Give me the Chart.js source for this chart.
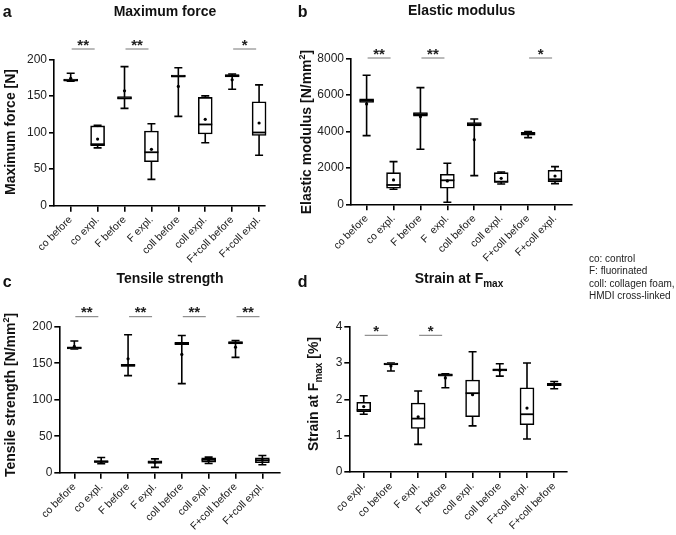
<!DOCTYPE html>
<html><head><meta charset="utf-8">
<script src="https://cdn.jsdelivr.net/npm/chart.js@4"></script>
<style>
html,body{margin:0;padding:0;background:#fff;}
#wrap{position:relative;width:676px;height:535px;overflow:hidden;background:#fff;}
canvas{position:absolute;}
#note{position:absolute;left:589px;top:253px;font:10px "Liberation Sans",Arial,sans-serif;line-height:12.3px;color:#222;white-space:nowrap;z-index:5;}
</style></head><body>
<div id="wrap">
<canvas id="ca" width="296" height="270" style="left:0;top:0;width:296px;height:270px"></canvas>
<canvas id="cb" width="380" height="270" style="left:296px;top:0;width:380px;height:270px"></canvas>
<canvas id="cc" width="296" height="265" style="left:0;top:270px;width:296px;height:265px"></canvas>
<canvas id="cd" width="380" height="265" style="left:296px;top:270px;width:380px;height:265px"></canvas>
<div id="note">co: control<br>F: fluorinated<br>coll: collagen foam,<br>HMDI cross-linked</div>
</div>
<script>
const FONT = '"Liberation Sans", Arial, Helvetica, sans-serif';

// ---- a: Maximum force [N]
const forceLabels = ['co before','co expl.','F before','F expl.','coll before','coll expl.','F+coll before','F+coll expl.'];
const forceMin    = [170, 79, 133, 36, 122, 86, 159, 69];
const forceQ1     = [170, 82, 145.5, 60, 175.5, 98, 176, 96];
const forceMedian = [171.5, 84, 147, 73, 177, 111, 177.5, 100];
const forceQ3     = [173, 109, 149, 102, 178.5, 148, 179, 142];
const forceMax    = [181, 110, 190, 112, 188.5, 150, 180, 165];
const forceMean   = [174, 91, 157, 77, 163, 118, 172, 113];
const forceYTicks = [0, 50, 100, 150, 200];
const forceSig    = [[0,'**'],[2,'**'],[6,'*']];

// ---- b: Elastic modulus [N/mm2]
const modLabels = ['co before','co expl.','F before','F  expl.','coll before','coll expl.','F+coll before','F+coll expl.'];
const modMin    = [3763, 822, 3014, 110, 1571, 1114, 3653, 1132];
const modQ1     = [5580, 877, 4830, 877, 4290, 1205, 3790, 1242];
const modMedian = [5680, 1059, 4930, 1315, 4384, 1242, 3872, 1370];
const modQ3     = [5780, 1735, 5030, 1644, 4480, 1735, 3940, 1863];
const modMax    = [7068, 2338, 6393, 2247, 4676, 1772, 3982, 2064];
const modMean   = [5498, 1333, 4804, 1279, 3543, 1425, 3850, 1552];
const modYTicks = [0, 2000, 4000, 6000, 8000];
const modSig    = [[0,'**'],[2,'**'],[6,'*']];

// ---- c: Tensile strength [N/mm2]
const tensLabels = ['co before','co expl.','F before','F expl.','coll before','coll expl.','F+coll before','F+coll expl.'];
const tensMin    = [169.5, 12.2, 133, 7.3, 122, 12.7, 158, 10.9];
const tensQ1     = [169.5, 14, 145.5, 12.7, 175.5, 14.5, 176.5, 13.6];
const tensMedian = [171, 15, 147, 14.5, 177, 17.7, 178, 17.2];
const tensQ3     = [172.5, 16.5, 148.5, 16.3, 178.5, 20.4, 179.5, 20.4];
const tensMax    = [180.5, 20.9, 189, 19, 188, 21.3, 181, 23.6];
const tensMean   = [173, 15, 156, 14, 162, 17.5, 172, 17];
const tensYTicks = [0, 50, 100, 150, 200];
const tensSig    = [[0,'**'],[2,'**'],[4,'**'],[6,'**']];

// ---- d: Strain at Fmax [%]
const strainLabels = ['co expl.','co before','F expl.','F before','coll expl.','coll before','F+coll expl.','F+coll before'];
const strainMin    = [1.59, 2.78, 0.76, 2.32, 1.27, 2.64, 0.91, 2.29];
const strainQ1     = [1.66, 2.95, 1.20, 2.64, 1.52, 2.78, 1.30, 2.38];
const strainMedian = [1.71, 2.97, 1.47, 2.67, 2.17, 2.81, 1.59, 2.41];
const strainQ3     = [1.92, 3.00, 1.90, 2.70, 2.53, 2.84, 2.32, 2.44];
const strainMax    = [2.10, 3.00, 2.23, 2.70, 3.31, 2.98, 3.00, 2.49];
const strainMean   = [1.80, 2.92, 1.52, 2.59, 2.13, 2.80, 1.76, 2.41];
const strainYTicks = [0, 1, 2, 3, 4];
const strainSig    = [[0,'*'],[2,'*']];

function drawRich(ctx, parts, x, y, rot) {
  ctx.save();
  ctx.translate(x, y);
  if (rot) ctx.rotate(rot);
  let w = 0;
  parts.forEach(p => { ctx.font = p.font; w += ctx.measureText(p.t).width; });
  let cx = -w / 2;
  ctx.textBaseline = 'alphabetic';
  ctx.textAlign = 'left';
  ctx.fillStyle = '#111';
  parts.forEach(p => { ctx.font = p.font; ctx.fillText(p.t, cx, p.dy || 0); cx += ctx.measureText(p.t).width; });
  ctx.restore();
}

const B14 = 'bold 14px ' + FONT;
const B9 = 'bold 9px ' + FONT;
const B10 = 'bold 10px ' + FONT;

function makePanel(id, p, g, t) {
  const n = p.labels.length;
  const boxW = 14, capW = 8, lw = 1.6;
  const plugin = {
    id: 'box_' + id,
    beforeDatasetsDraw(chart) {
      const ctx = chart.ctx, xs = chart.scales.x, ys = chart.scales.y;
      ctx.save();
      ctx.strokeStyle = '#000';
      ctx.lineWidth = lw;
      for (let i = 0; i < n; i++) {
        const x = xs.getPixelForValue(i);
        const yl = ys.getPixelForValue(p.lo[i]);
        const yh = ys.getPixelForValue(p.hi[i]);
        ctx.beginPath();
        ctx.moveTo(x, yl); ctx.lineTo(x, yh);
        ctx.moveTo(x - capW / 2, yl); ctx.lineTo(x + capW / 2, yl);
        ctx.moveTo(x - capW / 2, yh); ctx.lineTo(x + capW / 2, yh);
        ctx.stroke();
      }
      ctx.restore();
    },
    afterDatasetDraw(chart, args) {
      if (args.index !== 0) return;
      const ctx = chart.ctx, xs = chart.scales.x, ys = chart.scales.y;
      ctx.save();
      ctx.strokeStyle = '#000';
      ctx.lineWidth = 1.8;
      for (let i = 0; i < n; i++) {
        const x = xs.getPixelForValue(i);
        const ym = ys.getPixelForValue(p.med[i]);
        ctx.beginPath();
        ctx.moveTo(x - boxW / 2, ym); ctx.lineTo(x + boxW / 2, ym);
        ctx.stroke();
      }
      ctx.restore();
    },
    afterDraw(chart) {
      const ctx = chart.ctx, xs = chart.scales.x, ca = chart.chartArea;
      ctx.save();
      p.sig.forEach(([i, s]) => {
        const x0 = xs.getPixelForValue(i) + 1, x1 = x0 + 23;
        const y = ca.top - g.sigOff;
        ctx.strokeStyle = '#777';
        ctx.lineWidth = 1;
        ctx.beginPath(); ctx.moveTo(x0, y); ctx.lineTo(x1, y); ctx.stroke();
        ctx.fillStyle = '#222';
        ctx.font = 'bold 15px ' + FONT;
        ctx.textAlign = 'center';
        ctx.textBaseline = 'alphabetic';
        ctx.fillText(s, (x0 + x1) / 2, y + 0.5);
      });
      ctx.fillStyle = '#111';
      ctx.font = 'bold 16px ' + FONT;
      ctx.textAlign = 'left';
      ctx.textBaseline = 'alphabetic';
      ctx.fillText(t.letter, t.letterX, t.letterY);
      ctx.restore();
      drawRich(ctx, t.title, t.titleX, t.titleY, 0);
      drawRich(ctx, t.ytitle, t.yTitleX, t.yTitleY, -Math.PI / 2);
    }
  };
  const yt = p.yTicks;
  return new Chart(document.getElementById(id), {
    type: 'bar',
    data: {
      datasets: [
        {
          type: 'bar',
          data: p.labels.map((l, i) => ({ x: i, y: [p.q1[i], p.q3[i]] })),
          backgroundColor: '#fff',
          borderColor: '#000',
          borderWidth: lw,
          borderSkipped: false,
          barThickness: boxW,
          clip: false,
          order: 1
        },
        {
          type: 'scatter',
          data: p.labels.map((l, i) => ({ x: i, y: p.mean[i] })),
          pointRadius: 1.6,
          pointBackgroundColor: '#000',
          pointBorderColor: '#000',
          pointBorderWidth: 0,
          clip: false,
          order: 0
        }
      ]
    },
    options: {
      responsive: false,
      animation: false,
      devicePixelRatio: 1,
      layout: { padding: { top: g.padTop, right: g.padRight, left: 0, bottom: 0 } },
      plugins: { legend: { display: false }, tooltip: { enabled: false }, title: { display: false } },
      scales: {
        x: {
          type: 'linear',
          position: 'bottom',
          offset: false,
          min: g.xMin, max: g.xMax,
          afterBuildTicks: (s) => { s.ticks = p.labels.map((l, i) => ({ value: i })); },
          afterFit: (s) => { s.height = g.xHeight; },
          grid: { offset: false, drawOnChartArea: false, drawTicks: true, tickLength: 6, color: '#000', lineWidth: lw },
          border: { display: true, color: '#000', width: lw },
          ticks: {
            autoSkip: false, maxRotation: 45, minRotation: 45, padding: 2,
            color: '#222', font: { family: FONT, size: 10.5 },
            callback: (v) => p.labels[Math.round(v)]
          }
        },
        y: {
          type: 'linear',
          min: yt[0], max: yt[yt.length - 1],
          afterBuildTicks: (s) => { s.ticks = yt.map(v => ({ value: v })); },
          afterFit: (s) => { s.width = g.yWidth; },
          grid: { drawOnChartArea: false, drawTicks: true, tickLength: 5, color: '#000', lineWidth: lw },
          border: { display: true, color: '#000', width: lw },
          ticks: { padding: 2, color: '#222', font: { family: FONT, size: 12 }, callback: (v) => String(v) }
        }
      }
    },
    plugins: [plugin]
  });
}

makePanel('ca',
  { labels: forceLabels, lo: forceMin, q1: forceQ1, med: forceMedian, q3: forceQ3, hi: forceMax, mean: forceMean, yTicks: forceYTicks, sig: forceSig },
  { yWidth: 54, padTop: 59.3, padRight: 31, xHeight: 64.3, xMin: -0.62, xMax: 7.22, sigOff: 10.3 },
  { letter: 'a', letterX: 2.7, letterY: 16.7,
    title: [{ t: 'Maximum force', font: B14 }], titleX: 165, titleY: 15.5,
    ytitle: [{ t: 'Maximum force [N]', font: B14 }], yTitleX: 15, yTitleY: 132 });

makePanel('cb',
  { labels: modLabels, lo: modMin, q1: modQ1, med: modMedian, q3: modQ3, hi: modMax, mean: modMean, yTicks: modYTicks, sig: modSig },
  { yWidth: 55, padTop: 58.3, padRight: 104.3, xHeight: 65.7, xMin: -0.58, xMax: 7.62, sigOff: 0.3 },
  { letter: 'b', letterX: 1.7, letterY: 16.7,
    title: [{ t: 'Elastic modulus', font: B14 }], titleX: 165.7, titleY: 14.5,
    ytitle: [{ t: 'Elastic modulus [N/mm', font: B14 }, { t: '2', font: B9, dy: -6 }, { t: ']', font: B14 }], yTitleX: 15, yTitleY: 132 });

makePanel('cc',
  { labels: tensLabels, lo: tensMin, q1: tensQ1, med: tensMedian, q3: tensQ3, hi: tensMax, mean: tensMean, yTicks: tensYTicks, sig: tensSig },
  { yWidth: 59.3, padTop: 56.7, padRight: 16.7, xHeight: 62.3, xMin: -0.56, xMax: 7.63, sigOff: 10 },
  { letter: 'c', letterX: 2.7, letterY: 17.3,
    title: [{ t: 'Tensile strength', font: B14 }], titleX: 170, titleY: 12.7,
    ytitle: [{ t: 'Tensile strength [N/mm', font: B14 }, { t: '2', font: B9, dy: -6 }, { t: ']', font: B14 }], yTitleX: 15, yTitleY: 125 });

makePanel('cd',
  { labels: strainLabels, lo: strainMin, q1: strainQ1, med: strainMedian, q3: strainQ3, hi: strainMax, mean: strainMean, yTicks: strainYTicks, sig: strainSig },
  { yWidth: 53.3, padTop: 56.7, padRight: 109, xHeight: 63, xMin: -0.53, xMax: 7.47, sigOff: -8.6 },
  { letter: 'd', letterX: 1.7, letterY: 16.7,
    title: [{ t: 'Strain at F', font: B14 }, { t: 'max', font: B10, dy: 4 }], titleX: 163, titleY: 13.3,
    ytitle: [{ t: 'Strain at F', font: B14 }, { t: 'max', font: B10, dy: 4 }, { t: ' [%]', font: B14 }], yTitleX: 22, yTitleY: 124 });
</script>
</body></html>
